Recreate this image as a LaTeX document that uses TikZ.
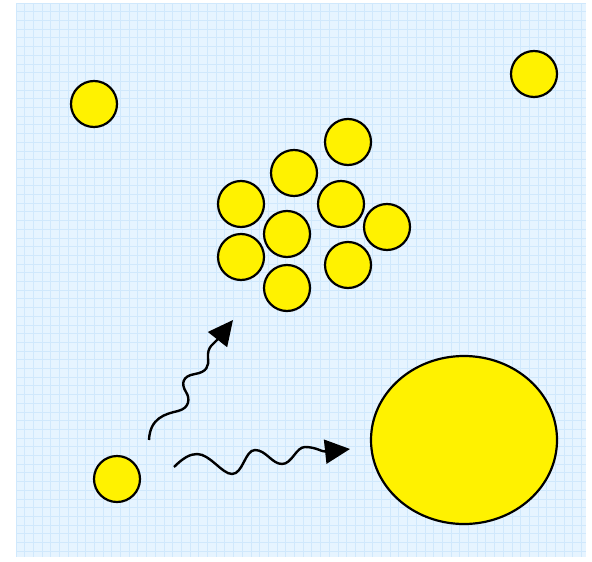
\documentclass[tikz,border=0pt]{standalone}
\usetikzlibrary{shapes.geometric,arrows.meta}
\definecolor{paper}{RGB}{230,244,255}
\definecolor{gridblue}{RGB}{208,232,252}
\tikzset{
	atom/.style={circle, draw=black, line width=1.1pt, fill=yellow, minimum size=23pt, inner sep=0pt},
	drop/.style={ellipse, draw=black, line width=1.1pt, fill=yellow, minimum width=93pt, minimum height=84pt, inner sep=0pt},
	gridline/.style={gridblue, line width=0.35pt},
	wave/.style={line width=1.2pt, -{Triangle[length=12.5pt, width=12pt]}}
}
\begin{document}
\begin{tikzpicture}[x=0.5pt, y=-0.5pt]
	\useasboundingbox (0,0) rectangle (592,561) ;
	\fill[paper] (16,3) rectangle (586,557) ;
	\foreach \gx in {16,24.7,...,586} \draw[gridline] (\gx,3) -- (\gx,557) ;
	\foreach \gy in {3,11.7,...,557} \draw[gridline] (16,\gy) -- (586,\gy) ;
	% lone atoms
		\node (a1)[atom] at (94, 104) {} ; 
		\node (a2)[atom] at (534, 74) {} ; 
		\node (a3)[atom] at (117, 479) {} ; 
	% cluster
		\node (c1)[atom] at (348, 142) {} ; 
		\node (c2)[atom] at (294, 173) {} ; 
		\node (c3)[atom] at (241, 204) {} ; 
		\node (c4)[atom] at (341, 204) {} ; 
		\node (c5)[atom] at (287, 234) {} ; 
		\node (c6)[atom] at (387, 227) {} ; 
		\node (c7)[atom] at (241, 257) {} ; 
		\node (c8)[atom] at (348, 265) {} ; 
		\node (c9)[atom] at (287, 288) {} ; 
	% droplet
		\node (d)[drop] at (464, 440) {} ; 
	% wavy arrows
		\coordinate (w1s) at (149, 440) ; 
		\coordinate (w1e) at (233, 320) ; 
		\coordinate (w2s) at (174, 467) ; 
		\coordinate (w2e) at (350, 449) ; 
	\draw[wave] (w1s) .. controls (150,418) and (165,414) .. (178,411)
		.. controls (190,408) and (190,398) .. (186,392)
		.. controls (181,384) and (182,376) .. (195,374)
		.. controls (207,372) and (209,366) .. (208,358)
		.. controls (207,346) and (214,344) .. (w1e) ;
	\draw[wave] (w2s) .. controls (183,458) and (190,454) .. (197,454)
		.. controls (210,454) and (222,474) .. (232,474)
		.. controls (243,474) and (245,450) .. (255,450)
		.. controls (266,450) and (272,464) .. (282,464)
		.. controls (292,464) and (296,447) .. (305,447)
		.. controls (316,447) and (322,452) .. (w2e) ;
\end{tikzpicture}
\end{document}
